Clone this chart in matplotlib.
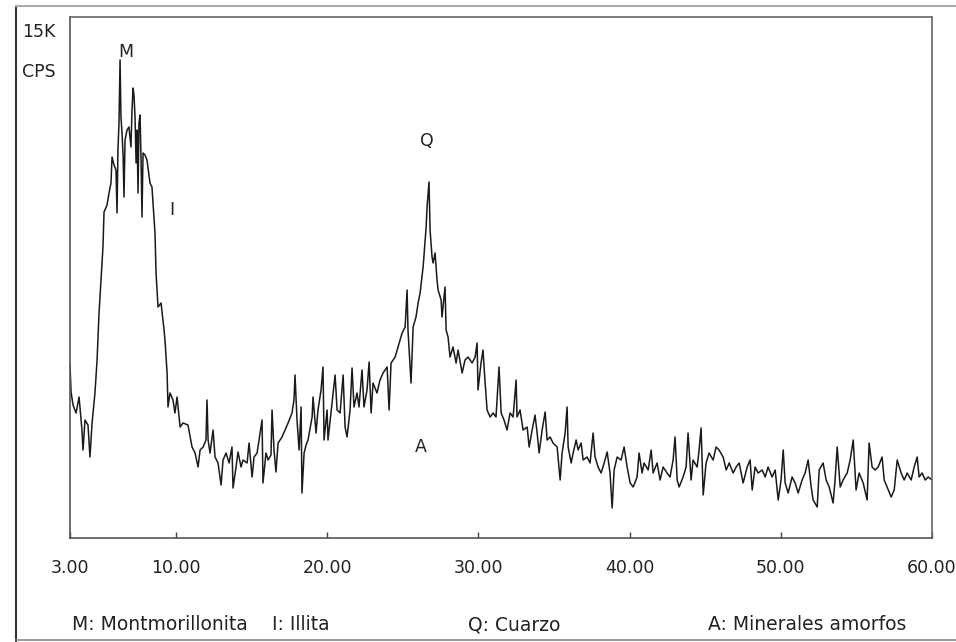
import matplotlib
matplotlib.use("Agg")
import matplotlib.pyplot as plt
from matplotlib.lines import Line2D

plt.rcParams['font.family'] = ['DejaVu Sans']

# diffractogram: 2-theta (deg) and intensity (CPS)
two_theta = [
    3.00, 3.07, 3.20, 3.40, 3.60, 3.79, 3.86, 3.99, 4.19, 4.32,
    4.46, 4.65, 4.79, 4.92, 5.05, 5.18, 5.25, 5.45, 5.58, 5.71,
    5.78, 5.91, 6.04, 6.11, 6.17, 6.24, 6.31, 6.37, 6.44, 6.51,
    6.57, 6.64, 6.77, 6.90, 7.03, 7.10, 7.17, 7.23, 7.30, 7.37,
    7.43, 7.50, 7.56, 7.63, 7.70, 7.76, 7.83, 7.96, 8.09, 8.22,
    8.29, 8.42, 8.62, 8.69, 8.82, 9.02, 9.22, 9.28, 9.42, 9.48,
    9.61, 9.81, 9.94, 10.08, 10.28,
    10.47, 10.80, 11.07, 11.27, 11.47, 11.60, 11.80, 11.99, 12.06, 12.13,
    12.26, 12.46, 12.59, 12.79, 12.99, 13.12, 13.32, 13.52, 13.71, 13.78,
    13.98, 14.11, 14.31, 14.44, 14.71, 14.84, 15.04, 15.17, 15.37, 15.57,
    15.70, 15.76, 15.96, 16.10, 16.29, 16.36, 16.49, 16.62, 16.76, 17.02,
    17.22, 17.42, 17.68, 17.81, 17.88, 18.01, 18.15, 18.28, 18.34,
    18.48, 18.61, 18.74, 19.01, 19.07, 19.27, 19.40, 19.60, 19.73, 19.80,
    20.00, 20.06, 20.33, 20.53, 20.66, 20.86, 21.06, 21.19, 21.32, 21.52,
    21.65, 21.78, 21.98, 22.11, 22.31, 22.44, 22.64, 22.78, 22.91, 23.04,
    23.30, 23.50, 23.70, 23.97, 24.10, 24.23, 24.50, 24.69, 24.96, 25.16,
    25.29, 25.35, 25.55, 25.69, 25.88, 26.02, 26.15, 26.35, 26.55, 26.61,
    26.74,
    26.81, 26.94, 27.01, 27.14, 27.27, 27.34, 27.54, 27.60, 27.80, 27.87,
    28.00, 28.13, 28.33, 28.53, 28.66, 28.93, 29.12, 29.32, 29.59, 29.79,
    29.92, 29.98, 30.18, 30.31, 30.45, 30.58, 30.78, 30.98, 31.17, 31.37,
    31.51, 31.70, 31.90, 32.10, 32.30, 32.50, 32.56, 32.76, 32.96, 33.23,
    33.36, 33.56, 33.75, 33.89, 34.02, 34.22, 34.42, 34.55, 34.75, 34.94,
    35.21, 35.41, 35.54, 35.74, 35.87, 35.94, 36.14, 36.27, 36.47, 36.60,
    36.80, 36.93, 37.19, 37.39, 37.59, 37.72, 37.92, 38.12, 38.32, 38.52,
    38.71, 38.85, 38.98, 39.18, 39.44, 39.64, 39.84, 40.04, 40.24, 40.50,
    40.63, 40.83, 40.96, 41.23, 41.43, 41.56, 41.82, 42.02, 42.22, 42.48,
    42.68, 42.88, 43.01, 43.15, 43.28, 43.54, 43.74, 43.87, 44.07, 44.20,
    44.47, 44.60, 44.73, 44.87, 45.06, 45.26, 45.53, 45.72, 45.92, 46.19,
    46.39, 46.59, 46.85, 47.05, 47.25, 47.51, 47.78, 47.97, 48.11, 48.30,
    48.50, 48.77, 48.97, 49.16, 49.43, 49.63, 49.83, 50.02, 50.16, 50.29,
    50.49, 50.75, 50.95, 51.15, 51.41, 51.61, 51.81, 52.01, 52.14, 52.41,
    52.54, 52.80, 53.00, 53.20, 53.46, 53.59, 53.73, 53.93, 54.12, 54.39,
    54.59, 54.79, 54.98, 55.18, 55.45, 55.71, 55.84, 56.04, 56.24, 56.44,
    56.70, 56.84, 57.03, 57.30, 57.50, 57.70, 57.96, 58.16, 58.36, 58.62,
    58.82, 59.02, 59.15, 59.35, 59.55, 59.75, 60.00,
]
counts = [
    5190, 4380, 3990, 3750, 4230, 3240, 2640, 3540, 3390, 2430,
    3450, 4350, 5340, 6750, 7740, 8730, 9780, 9990, 10350, 10650,
    11430, 11190, 11040, 9750, 11640, 12450, 14340, 12630, 12150, 11490,
    10230, 11940, 12240, 12330, 11730, 12840, 13500, 13290, 12630, 11250,
    12240, 10350, 12450, 12690, 11340, 9630, 11550, 11490, 11340, 10890,
    10650, 10530, 9150, 7950, 6930, 7050, 6240, 5940, 4950, 3930,
    4350, 4140, 3750, 4230, 3330,
    3450, 3390, 2730, 2550, 2130, 2640, 2730, 2940, 4140, 2940,
    2550, 3240, 2430, 2250, 1590, 2340, 2550, 2250, 2730, 1500,
    2130, 2580, 2130, 2340, 2250, 2850, 1830, 2430, 2550, 3150,
    3540, 1650, 2550, 2340, 2490, 3840, 2640, 1980, 2850, 3030,
    3240, 3450, 3750, 4140, 4890, 3540, 2640, 3930, 1350,
    2550, 2790, 2940, 3630, 4230, 3150, 3840, 4440, 5130, 2940,
    3840, 2940, 4050, 4890, 3840, 3750, 4890, 3330, 3030, 3840,
    5100, 3930, 4350, 3930, 5040, 3930, 4440, 5280, 3750, 4650,
    4350, 4740, 4950, 5130, 3840, 5250, 5430, 5730, 6150, 6330,
    7440, 6240, 4650, 6330, 6630, 7050, 7350, 8130, 9330, 9930,
    10680,
    9240, 8430, 8250, 8550, 7740, 7440, 7140, 6630, 7530, 6240,
    6030, 5430, 5730, 5250, 5640, 4950, 5340, 5430, 5250, 5430,
    5850, 4440, 5250, 5640, 4650, 3840, 3630, 3750, 3630, 5130,
    3750, 3540, 3240, 3750, 3630, 4740, 3630, 3840, 3240, 3330,
    2730, 3240, 3690, 3150, 2550, 3240, 3780, 2940, 3030, 2850,
    2730, 1740, 2550, 3150, 3930, 2730, 2250, 2550, 2940, 2640,
    2850, 2340, 2430, 2250, 3150, 2430, 2130, 1950, 2250, 2580,
    1950, 900, 2040, 2430, 2340, 2730, 2130, 1650, 1530, 1830,
    2550, 1950, 2250, 2040, 2640, 1950, 2250, 1740, 2130, 1950,
    1830, 2340, 3030, 1740, 1530, 1830, 2130, 3150, 1740, 2340,
    2130, 2640, 3300, 1290, 2250, 2550, 2340, 2730, 2640, 2430,
    2040, 2250, 1950, 2130, 2250, 1650, 2130, 2340, 1440, 2130,
    1950, 2040, 1830, 2130, 1830, 2040, 1140, 1740, 2640, 1650,
    1350, 1830, 1650, 1350, 1740, 1950, 2340, 1530, 1140, 930,
    2040, 2250, 1740, 1530, 1050, 1740, 2730, 1530, 1740, 1950,
    2340, 2940, 1440, 1950, 1650, 1140, 2850, 2130, 2040, 2130,
    2430, 1740, 1530, 1230, 1440, 2340, 1950, 1740, 1950, 1740,
    2130, 2430, 1830, 1950, 1740, 1830, 1740,
]

peak_names = ["M", "I", "Q", "A"]
peak_x = [6.7, 9.75, 26.6, 26.2]
peak_y = [14580, 9840, 11910, 2730]

xtick_values = [3, 10, 20, 30, 40, 50, 60]
xtick_labels = ["3.00", "10.00", "20.00", "30.00", "40.00", "50.00", "60.00"]

legend_items = ["M: Montmorillonita", "I: Illita", "Q: Cuarzo", "A: Minerales amorfos"]

W, H = 956, 642
fs = 13.5
fig = plt.figure(figsize=(W / 100, H / 100), dpi=100)
ax = fig.add_axes([70 / W, 1 - 538 / H, (932 - 70) / W, (538 - 17) / H])

ax.plot(two_theta, counts, color="#1a1a1a", lw=1.1)

ax.set_xlim(3, 60)
ax.set_ylim(0, 15630)
ax.set_xticks(xtick_values)
ax.set_xticklabels(xtick_labels, fontsize=12.5, color="#222222")
ax.set_yticks([])
ax.tick_params(axis="x", direction="in", length=4, width=1, pad=15, color="#444444")

for side in ["left", "bottom"]:
    ax.spines[side].set_color("#555555")
    ax.spines[side].set_linewidth(1.2)
for side in ["top", "right"]:
    ax.spines[side].set_color("#666666")
    ax.spines[side].set_linewidth(1.2)
    ax.spines[side].set_linestyle((0, (2, 1)))

for name, x, y in zip(peak_names, peak_x, peak_y):
    ax.text(x, y, name, ha="center", va="center", fontsize=fs - 1, color="#222222")

fig.text(22 / W, 1 - 32 / H, "15K", ha="left", va="center", fontsize=fs - 1, color="#222222")
fig.text(22 / W, 1 - 72 / H, "CPS", ha="left", va="center", fontsize=fs - 1, color="#222222")

legend_x = [72, 272, 468, 708]
for label, x in zip(legend_items, legend_x):
    fig.text(x / W, 1 - 625 / H, label, ha="left", va="center", fontsize=fs, color="#222222")

# outer frame of the figure
fig.add_artist(Line2D([16 / W, 16 / W], [0, 1 - 6 / H], transform=fig.transFigure, color="#333333", lw=1.5))
fig.add_artist(Line2D([16 / W, 1], [1 - 6 / H, 1 - 6 / H], transform=fig.transFigure, color="#aaaaaa", lw=1.5))
fig.add_artist(Line2D([16 / W, 1], [1 - 640 / H, 1 - 640 / H], transform=fig.transFigure, color="#888888", lw=1.2))

fig.savefig("out.png", dpi=100)
